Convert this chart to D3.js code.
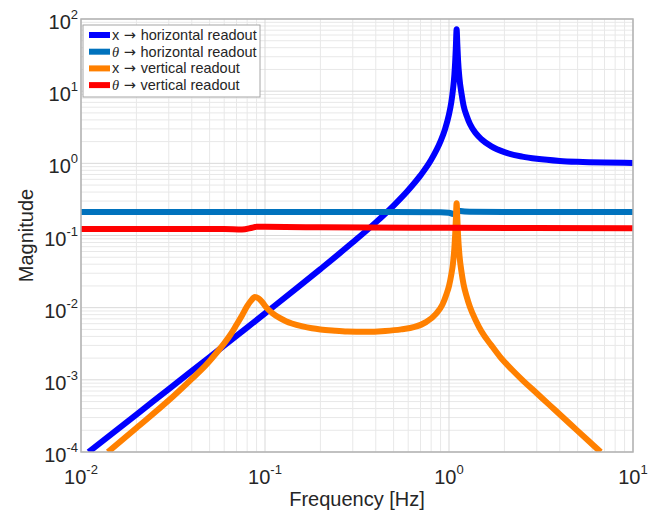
<!DOCTYPE html>
<html>
<head>
<meta charset="utf-8">
<script src="https://cdn.jsdelivr.net/npm/d3@7"></script>
<style>
body { margin: 0; background: #fff; }
text { font-family: "Liberation Sans", Arial, sans-serif; fill: #262626; }
</style>
</head>
<body>
<div id="chart"></div>
<script>
// x -> horizontal readout
var freqXH = [0.011, 0.02, 0.03, 0.05, 0.07, 0.1, 0.15, 0.2, 0.3, 0.4, 0.5, 0.6, 0.7, 0.8, 0.9, 0.95,
    1.0, 1.03, 1.05, 1.07, 1.08, 1.09, 1.1, 1.11, 1.12, 1.14, 1.17, 1.2, 1.25, 1.3, 1.4, 1.5, 1.7,
    2, 2.5, 3, 4, 5, 7, 10];
var magXH = [1.0e-4, 3.3e-4, 7.45e-4, 2.07e-3, 4.07e-3, 8.33e-3, 0.0189, 0.0342, 0.0804, 0.152, 0.26, 0.424, 0.681, 1.12, 2.03, 2.94,
    4.76, 7.1, 10.3, 17, 25, 42, 72, 44, 27, 15, 9.2, 6.3, 4.5, 3.5, 2.6, 2.16, 1.72,
    1.43, 1.24, 1.155, 1.08, 1.05, 1.025, 1.012];

// theta -> horizontal readout
var freqTH = [0.01, 0.1, 0.5, 0.9, 1.0, 1.05, 1.08, 1.1, 1.12, 1.15, 1.3, 2, 10];
var magTH = [0.211, 0.211, 0.211, 0.210, 0.207, 0.199, 0.196, 0.205, 0.221, 0.218, 0.213, 0.211, 0.211];

// x -> vertical readout
var freqXV = [0.014, 0.02, 0.03, 0.04, 0.045, 0.05, 0.055, 0.06, 0.065, 0.07, 0.075, 0.08, 0.084, 0.088, 0.092, 0.096,
    0.1, 0.105, 0.11, 0.12, 0.13, 0.14, 0.16, 0.18, 0.2, 0.24, 0.28, 0.35, 0.45, 0.55, 0.65, 0.75, 0.85, 0.92, 0.97,
    1.0, 1.03, 1.05, 1.07, 1.08, 1.09, 1.1, 1.11, 1.12, 1.14, 1.17, 1.2, 1.25, 1.3, 1.4, 1.5, 1.7, 1.89,
    2.2, 2.5, 3, 3.5, 4.2, 5, 6, 6.67];
var magXV = [1.0e-4, 2.15e-4, 5.2e-4, 1.03e-3, 1.37e-3, 1.83e-3, 2.43e-3, 3.2e-3, 4.25e-3, 5.8e-3, 7.8e-3, 0.0105, 0.0125, 0.014, 0.0135, 0.0122,
    0.0106, 0.00925, 0.00836, 0.00721, 0.0065, 0.00604, 0.0055, 0.00518, 0.00499, 0.0048, 0.00468, 0.00462, 0.00475, 0.005, 0.0054, 0.0063, 0.0082, 0.011, 0.0155,
    0.02, 0.029, 0.04, 0.068, 0.1, 0.17, 0.28, 0.17, 0.1, 0.053, 0.031, 0.021, 0.014, 0.0102, 0.0066, 0.0047, 0.003, 0.0021,
    1.38e-3, 1.0e-3, 6.52e-4, 4.54e-4, 2.96e-4, 1.96e-4, 1.28e-4, 1.0e-4];

// theta -> vertical readout
var freqTV = [0.01, 0.04, 0.06, 0.075, 0.085, 0.09, 0.1, 0.2, 1, 10];
var magTV = [0.123, 0.123, 0.123, 0.121, 0.128, 0.132, 0.132, 0.130, 0.128, 0.126];

var seriesNames = ["x \u2192 horizontal readout", "\u03b8 \u2192 horizontal readout", "x \u2192 vertical readout", "\u03b8 \u2192 vertical readout"];
var seriesColors = ["#0000ff", "#0072bd", "#ff8000", "#ff0000"];
var seriesFreq = [freqXH, freqTH, freqXV, freqTV];
var seriesMag = [magXH, magTH, magXV, magTV];

var xExponents = [-2, -1, 0, 1];
var yExponents = [-4, -3, -2, -1, 0, 1, 2];

var width = 648, height = 518;
var margin = {top: 19, right: 15, bottom: 66, left: 81};

var svg = d3.select("#chart").append("svg")
    .attr("width", width)
    .attr("height", height);

var x = d3.scaleLog().domain([1e-2, 1e1]).range([margin.left, width - margin.right]);
var y = d3.scaleLog().domain([1e-4, 1e2]).range([height - margin.bottom, margin.top]);

// grid
var minorX = [], minorY = [];
xExponents.slice(0, -1).forEach(function(e) {
    for (var k = 2; k < 10; k++) minorX.push(k * Math.pow(10, e));
});
yExponents.slice(0, -1).forEach(function(e) {
    for (var k = 2; k < 10; k++) minorY.push(k * Math.pow(10, e));
});

var grid = svg.append("g");
grid.selectAll("line.mx").data(minorX).enter().append("line")
    .attr("x1", function(d) { return x(d); }).attr("x2", function(d) { return x(d); })
    .attr("y1", y.range()[0]).attr("y2", y.range()[1])
    .attr("stroke", "#e8e8e8").attr("stroke-width", 1);
grid.selectAll("line.my").data(minorY).enter().append("line")
    .attr("y1", function(d) { return y(d); }).attr("y2", function(d) { return y(d); })
    .attr("x1", x.range()[0]).attr("x2", x.range()[1])
    .attr("stroke", "#e8e8e8").attr("stroke-width", 1);
grid.selectAll("line.Mx").data(xExponents).enter().append("line")
    .attr("x1", function(d) { return x(Math.pow(10, d)); }).attr("x2", function(d) { return x(Math.pow(10, d)); })
    .attr("y1", y.range()[0]).attr("y2", y.range()[1])
    .attr("stroke", "#d9d9d9").attr("stroke-width", 1);
grid.selectAll("line.My").data(yExponents).enter().append("line")
    .attr("y1", function(d) { return y(Math.pow(10, d)); }).attr("y2", function(d) { return y(Math.pow(10, d)); })
    .attr("x1", x.range()[0]).attr("x2", x.range()[1])
    .attr("stroke", "#d9d9d9").attr("stroke-width", 1);

// curves
svg.append("clipPath").attr("id", "clip").append("rect")
    .attr("x", x.range()[0]).attr("y", y.range()[1])
    .attr("width", x.range()[1] - x.range()[0])
    .attr("height", y.range()[0] - y.range()[1]);

var line = d3.line()
    .x(function(d) { return x(d[0]); })
    .y(function(d) { return y(d[1]); })
    .curve(d3.curveMonotoneX);

var curves = svg.append("g").attr("clip-path", "url(#clip)");
seriesFreq.forEach(function(fr, i) {
    var pts = fr.map(function(f, j) { return [f, seriesMag[i][j]]; });
    curves.append("path")
        .attr("d", line(pts))
        .attr("fill", "none")
        .attr("stroke", seriesColors[i])
        .attr("stroke-width", 6)
        .attr("stroke-linejoin", "round");
});

// box
svg.append("rect")
    .attr("x", x.range()[0]).attr("y", y.range()[1])
    .attr("width", x.range()[1] - x.range()[0])
    .attr("height", y.range()[0] - y.range()[1])
    .attr("fill", "none").attr("stroke", "#b3b3b3").attr("stroke-width", 1.5);

// tick labels
var xl = svg.selectAll("text.xt").data(xExponents).enter().append("text")
    .attr("x", function(d) { return x(Math.pow(10, d)); })
    .attr("y", 484)
    .attr("text-anchor", "middle")
    .style("font-size", "20px");
xl.append("tspan").text("10");
xl.append("tspan").attr("dy", -10).style("font-size", "13px").text(function(d) { return d; });

var yl = svg.selectAll("text.yt").data(yExponents).enter().append("text")
    .attr("x", 78)
    .attr("y", function(d) { return y(Math.pow(10, d)) + 10; })
    .attr("text-anchor", "end")
    .style("font-size", "20px");
yl.append("tspan").text("10");
yl.append("tspan").attr("dy", -10).style("font-size", "13px").text(function(d) { return d; });

// axis titles
svg.append("text")
    .attr("x", (x.range()[0] + x.range()[1]) / 2)
    .attr("y", 506)
    .attr("text-anchor", "middle")
    .style("font-size", "20px")
    .text("Frequency [Hz]");

svg.append("text")
    .attr("transform", "translate(33," + ((y.range()[0] + y.range()[1]) / 2) + ") rotate(-90)")
    .attr("text-anchor", "middle")
    .style("font-size", "20px")
    .text("Magnitude");

// legend
var legend = svg.append("g");
legend.append("rect")
    .attr("x", 83).attr("y", 25).attr("width", 177).attr("height", 72)
    .attr("fill", "#fff").attr("stroke", "#a6a6a6").attr("stroke-width", 1);

seriesNames.forEach(function(name, i) {
    var ry = 35 + i * 16.7;
    legend.append("line")
        .attr("x1", 89).attr("x2", 110)
        .attr("y1", ry).attr("y2", ry)
        .attr("stroke", seriesColors[i]).attr("stroke-width", 6);
    var t = legend.append("text")
        .attr("x", 112).attr("y", ry + 5)
        .style("font-size", "14.5px");
    var parts = name.split(" \u2192 ");
    if (parts[0] === "\u03b8") {
        t.append("tspan").style("font-family", "'Liberation Serif', serif").style("font-style", "italic").text("\u03b8");
    } else {
        t.append("tspan").text(parts[0]);
    }
    t.append("tspan").style("font-family", "'DejaVu Sans', sans-serif").text(" \u2192 ");
    t.append("tspan").text(parts[1]);
});
</script>
</body>
</html>
